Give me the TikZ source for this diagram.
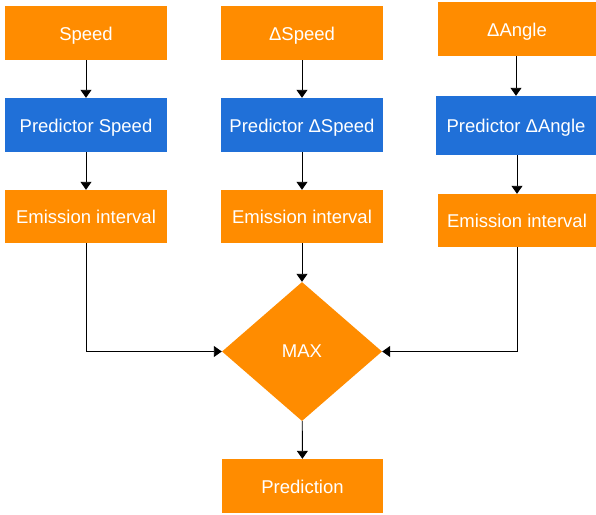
\documentclass[tikz,border=0pt]{standalone}
\usepackage{fontspec}
\setmainfont{Liberation Sans}
\usetikzlibrary{arrows.meta,shapes.geometric}

\definecolor{boxorange}{RGB}{255,140,0}
\definecolor{boxblue}{RGB}{32,112,216}

\begin{document}
\begin{tikzpicture}[x=1pt, y=-1pt, >={Triangle[length=8pt,width=11pt]},
    box/.style={fill=boxorange, text=white, minimum width=162pt, minimum height=54pt,
      inner sep=0pt, text height=14pt, text depth=0pt, font=\fontsize{18.5}{20}\selectfont},
    pred/.style={box, fill=boxblue},
    link/.style={->, line width=0.9pt}]
        \useasboundingbox (0,0) rectangle (596,514);
        % left column
        \node[box] (spd) at (86,33) {Speed};
        \node[pred] (pspd) at (86,125) {Predictor Speed};
        \node[box, minimum height=53pt] (emia) at (86,216.5) {Emission interval};
        % middle column
        \node[box] (dspd) at (302,33) {ΔSpeed};
        \node[pred] (pdspd) at (302,125) {Predictor ΔSpeed};
        \node[box, minimum height=53pt] (emib) at (302,216.5) {Emission interval};
        % right column
        \node[box, minimum width=159pt] (dang) at (517,29) {ΔAngle};
        \node[pred, minimum width=161pt, minimum height=59pt] (pdang) at (516,125.5) {Predictor ΔAngle};
        \node[box, minimum width=159pt, minimum height=53pt] (emic) at (517,220.5) {Emission interval};
        % merge and result
        \node[diamond, aspect=1.15, fill=boxorange, text=white, minimum width=160pt,
          minimum height=139pt, inner sep=0pt, font=\fontsize{18.5}{20}\selectfont] (max) at (302,351.5) {MAX};
        \node[box, minimum width=161pt] (res) at (302.5,486) {Prediction};
        \draw[link] (spd) -- (pspd);
        \draw[link] (pspd) -- (emia);
        \draw[link] (dspd) -- (pdspd);
        \draw[link] (pdspd) -- (emib);
        \draw[link] (dang.south -| pdang.north) -- (pdang);
        \draw[link] (pdang.south -| emic.north) -- (emic);
        \draw[link] (emia.south) |- (max.west);
        \draw[link] (emib) -- (max);
        \draw[link] (emic.south) |- (max.east);
        \draw[link] (max) -- (res);
\end{tikzpicture}
\end{document}
